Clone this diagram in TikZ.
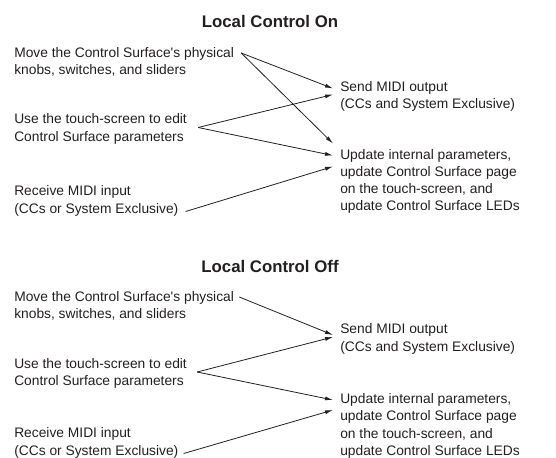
\documentclass[tikz,border=0pt]{standalone}
\usepackage{fontspec}
\setmainfont{Liberation Sans}
\usepackage{xcolor}
\usetikzlibrary{arrows.meta, positioning}
\definecolor{ink}{HTML}{231F20}
\tikzset{
    heading/.style={font=\fontsize{12.6}{15}\selectfont\bfseries, text=ink, inner sep=0pt},
    label/.style={anchor=west, align=left, inner sep=0pt, text=ink, font=\fontsize{10.35}{12.9}\selectfont},
    arrow/.style={-{Latex[length=6pt, width=3pt]}, line width=0.6pt, color=ink}
}

\begin{document}
\begin{tikzpicture}[x=0.75pt, y=-0.75pt]
    \useasboundingbox (0,0) rectangle (556,457);

    % Local Control On
    \begin{scope}
        \node [heading] (titleOn) at (270,21) {Local Control On};
        \node [label] (moveOn) at (14,62) {Move the Control Surface\textquotesingle s physical\\knobs, switches, and sliders};
        \node [label] (touchOn) at (14,129) {Use the touch-screen to edit\\Control Surface parameters};
        \node [label] (recvOn) at (14,201) {Receive MIDI input\\(CCs or System Exclusive)};
        \node [label] (sendOn) at (340,96.5) {Send MIDI output\\(CCs and System Exclusive)};
        \node [label] (updOn) at (340,181.5) {Update internal parameters,\\update Control Surface page\\on the touch-screen, and\\update Control Surface LEDs};

        \draw [arrow] ([shift={(7,-9)}]moveOn.east) -- ([shift={(-7,-8)}]sendOn.west);
        \draw [arrow] ([shift={(7,-9)}]moveOn.east) -- ([shift={(-7,-38)}]updOn.west);
        \draw [arrow] ([shift={(11,-1.5)}]touchOn.east) -- ([shift={(-7,-2)}]sendOn.west);
        \draw [arrow] ([shift={(11,-1.5)}]touchOn.east) -- ([shift={(-7,-26)}]updOn.west);
        \draw [arrow] ([shift={(7,10.5)}]recvOn.east) -- ([shift={(-7,-15)}]updOn.west);
    \end{scope}

    % Local Control Off
    \begin{scope}[yshift=-244*0.75pt]
        \node [heading] (titleOff) at (270,22) {Local Control Off};
        \node [label] (moveOff) at (14,62) {Move the Control Surface\textquotesingle s physical\\knobs, switches, and sliders};
        \node [label] (touchOff) at (14,129.5) {Use the touch-screen to edit\\Control Surface parameters};
        \node [label] (recvOff) at (14,199) {Receive MIDI input\\(CCs or System Exclusive)};
        \node [label] (sendOff) at (340,95) {Send MIDI output\\(CCs and System Exclusive)};
        \node [label] (updOff) at (340,182) {Update internal parameters,\\update Control Surface page\\on the touch-screen, and\\update Control Surface LEDs};

        \draw [arrow] ([shift={(5,-9)}]moveOff.east) -- ([shift={(-7,-4)}]sendOff.west);
        \draw [arrow] ([shift={(10,-1.5)}]touchOff.east) -- ([shift={(-7,-2)}]sendOff.west);
        \draw [arrow] ([shift={(10,-1.5)}]touchOff.east) -- ([shift={(-7,-26)}]updOff.west);
        \draw [arrow] ([shift={(5,10.5)}]recvOff.east) -- ([shift={(-7,-16)}]updOff.west);
    \end{scope}
\end{tikzpicture}
\end{document}
